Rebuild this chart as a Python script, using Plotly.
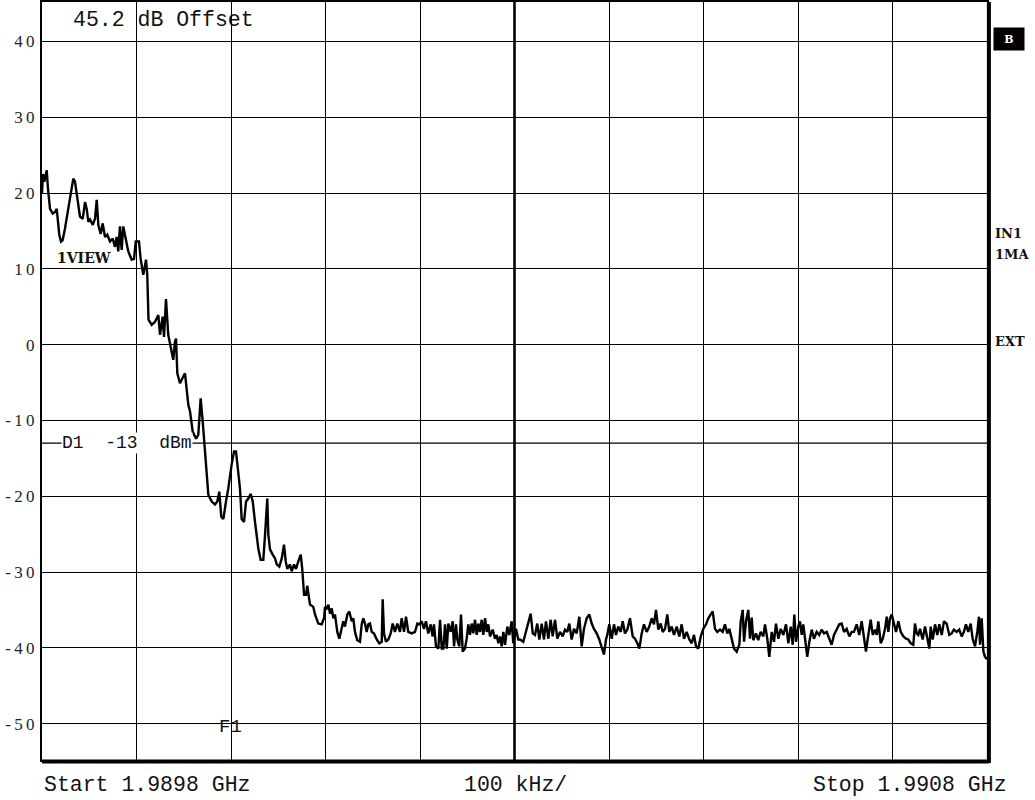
import plotly.graph_objects as go

# Frequency offset from start (kHz) and measured level (dBm)
freq_offset_khz = [
    0.0, 1.0, 2.5, 5.0, 6.3, 8.5, 11.3, 13.8, 15.6, 16.4, 18.3, 20.1, 21.9, 24.3, 27.8,
    30.4, 33.1, 34.9, 37.4, 40.2, 43.1, 45.5, 47.3, 49.0, 50.8, 53.7, 56.1, 57.9, 59.6,
    62.1, 64.2, 66.7, 69.1, 72.0, 74.8, 77.2, 79.0, 80.7, 82.5, 84.3, 86.0, 88.9, 91.3,
    94.9, 97.4, 99.2, 102.6, 104.4, 107.2, 110.1, 111.4, 112.7, 116.1, 119.6, 123.1,
    124.9, 127.7, 129.1, 131.2, 133.6, 137.2, 138.9, 140.7, 141.8, 143.2, 146.0, 149.5,
    151.3, 154.8, 156.6, 159.5, 163.0, 165.4, 167.9, 170.1, 172.5, 176.0, 179.6, 183.1,
    185.5, 187.6, 189.7, 191.9, 194.7, 197.1, 200.7, 203.2, 205.3, 207.7, 209.5, 211.3,
    213.8, 215.9, 218.3, 220.8, 223.0, 225.4, 228.9, 231.4, 234.2, 236.0, 238.4, 239.5,
    241.3, 244.1, 246.6, 248.4, 251.1, 253.7, 256.1, 257.9, 259.6, 262.4, 264.2, 266.7,
    268.8, 271.2, 273.8, 275.4, 277.3, 279.4, 280.7, 283.6, 287.1, 288.9, 292.4, 296.0,
    298.4, 299.5, 301.3, 303.0, 304.8, 306.6, 308.3, 310.0, 312.5, 314.6, 317.1, 318.8,
    320.6, 323.1, 325.2, 327.7, 329.4, 331.2, 333.6, 336.5, 338.3, 340.0, 341.8, 343.6,
    345.3, 347.1, 348.9, 351.3, 354.2, 356.9, 359.5, 360.5, 361.9, 364.0, 366.5, 369.0,
    371.1, 373.5, 376.0, 378.8, 380.6, 383.1, 385.2, 387.6, 391.2, 394.7, 397.2, 399.3,
    401.8, 404.2, 406.3, 408.8, 411.3, 413.4, 414.8, 416.9, 419.4, 421.2, 423.0, 424.7,
    426.5, 428.3, 430.0, 432.5, 434.6, 436.0, 438.1, 439.5, 441.6, 443.4, 445.2, 447.6,
    449.4, 451.1, 452.9, 454.7, 456.4, 458.2, 460.0, 461.7, 463.5, 465.3, 467.0, 468.8,
    470.6, 472.3, 474.1, 476.9, 479.4, 481.2, 482.9, 484.7, 486.5, 488.2, 490.0, 492.4,
    494.5, 497.0, 498.7, 501.6, 504.0, 505.8, 509.3, 512.2, 514.6, 517.1, 519.3, 521.7,
    524.1, 526.3, 528.8, 531.2, 533.3, 535.8, 538.3, 540.4, 542.9, 545.3, 548.2, 551.0,
    553.4, 555.9, 558.0, 560.5, 563.0, 565.8, 568.6, 571.1, 573.5, 576.4, 579.2, 581.7,
    584.1, 587.0, 589.7, 592.3, 594.7, 596.8, 598.2, 600.3, 602.9, 605.3, 607.4, 609.8,
    612.4, 614.5, 616.9, 619.4, 622.2, 625.1, 627.5, 630.0, 632.1, 634.6, 637.0, 639.9,
    642.6, 645.2, 647.6, 649.7, 652.2, 654.7, 656.8, 659.3, 661.7, 663.8, 666.3, 668.8,
    671.6, 674.4, 676.9, 679.4, 682.2, 685.0, 687.5, 689.9, 692.1, 694.5, 697.1, 699.8,
    702.7, 705.1, 707.6, 709.7, 712.2, 714.6, 717.5, 720.3, 722.7, 725.2, 727.3, 729.8,
    732.3, 735.1, 737.9, 739.4, 741.5, 742.9, 745.0, 747.4, 749.2, 751.0, 752.7, 755.5,
    757.9, 760.5, 763.3, 765.1, 767.5, 769.6, 772.2, 774.6, 776.7, 779.2, 781.7, 784.5,
    787.3, 789.8, 792.3, 794.4, 796.1, 797.9, 800.3, 802.1, 803.9, 805.6, 808.5, 809.8,
    812.0, 814.5, 816.9, 819.8, 822.5, 825.1, 827.5, 830.4, 833.1, 835.6, 838.1, 840.9,
    843.7, 846.2, 848.7, 851.5, 854.3, 856.8, 859.2, 862.1, 864.8, 867.4, 869.8, 871.9,
    874.4, 876.9, 879.1, 881.5, 883.3, 885.0, 887.6, 889.7, 892.1, 893.9, 895.6, 897.4,
    899.2, 901.6, 903.7, 906.2, 908.7, 911.5, 914.3, 916.7, 919.3, 922.0, 923.8, 925.6,
    927.3, 929.1, 931.9, 934.4, 936.8, 939.0, 940.4, 942.6, 945.0, 947.4, 949.5, 952.1,
    954.5, 957.3, 960.1, 962.6, 965.0, 967.9, 970.6, 973.2, 975.6, 977.7, 980.2, 982.7,
    984.8, 987.3, 989.7, 991.5, 992.6, 994.4, 996.2, 997.9, 1000.0,
]

level_dbm = [
    20.0, 22.5, 21.5, 23.0, 20.6, 17.9, 17.3, 17.5, 17.9, 17.0, 14.5, 13.6, 13.8, 15.3, 17.9,
    20.1, 21.9, 21.5, 19.3, 16.9, 16.6, 18.8, 17.9, 16.2, 16.5, 15.8, 16.6, 19.1, 15.8,
    14.6, 16.0, 14.2, 14.5, 13.6, 14.0, 12.9, 14.2, 12.3, 15.6, 12.5, 15.6, 13.6, 12.3,
    11.2, 11.3, 13.6, 13.6, 11.3, 9.2, 11.2, 9.2, 3.3, 2.6, 3.0, 3.9,
    1.3, 3.7, 1.0, 6.0, 1.3, -1.3, -2.0, 0.4, 0.8, -3.8, -5.1, -4.2,
    -3.8, -7.9, -8.8, -11.5, -12.4, -11.9, -7.1, -10.2, -13.7, -19.8, -20.7, -21.1,
    -20.7, -19.4, -22.7, -23.0, -20.7, -19.0, -15.8, -14.1, -14.1, -16.8, -19.0, -23.0,
    -23.4, -20.7, -20.3, -19.7, -20.7, -23.4, -26.9, -28.4, -28.4, -25.1, -20.3, -25.1,
    -27.0, -27.7, -28.2, -29.0, -29.3, -28.2, -26.4, -28.6, -29.6, -29.0, -29.9, -29.0,
    -29.6, -28.6, -27.7, -29.6, -33.0, -33.0, -31.8, -34.3, -34.6, -35.6, -36.8, -36.9,
    -36.1, -34.6, -34.8, -34.3, -35.5, -34.8, -36.1, -35.6, -37.9, -38.8, -37.5, -36.5,
    -37.2, -35.6, -35.2, -36.5, -36.1, -37.9, -39.0, -39.2, -36.9, -36.1, -36.8, -37.9,
    -36.9, -36.8, -37.9, -38.1, -38.9, -39.4, -39.2, -33.6, -38.1, -39.2, -38.9, -38.1,
    -36.8, -37.9, -36.8, -37.9, -36.1, -37.9, -35.9, -37.9, -38.1, -37.9, -36.8, -36.9,
    -36.5, -37.5, -36.5, -38.1, -36.9, -38.5, -36.9, -39.8, -40.1, -36.3, -40.1, -40.1,
    -36.9, -40.1, -36.8, -37.9, -36.5, -39.8, -36.9, -38.9, -39.8, -35.6, -40.5, -40.1,
    -38.8, -36.9, -38.3, -36.8, -38.1, -36.3, -38.3, -36.8, -37.9, -36.3, -38.3, -36.1,
    -37.9, -36.9, -38.5, -37.6, -38.8, -38.3, -39.4, -38.5, -39.8, -37.9, -39.6, -37.2,
    -38.3, -36.5, -39.4, -37.5, -38.9, -38.9, -39.2, -37.9, -36.5, -35.5, -38.1, -38.3,
    -36.8, -38.9, -36.8, -38.9, -36.5, -38.8, -36.3, -38.5, -36.3, -38.8, -37.9, -38.5,
    -37.6, -37.9, -36.8, -38.9, -37.5, -38.1, -35.9, -39.8, -37.5, -36.1, -35.6, -36.8,
    -37.5, -38.1, -38.9, -40.1, -40.9, -38.9, -38.3, -36.9, -38.8, -36.9, -38.3, -37.2,
    -37.9, -36.5, -38.1, -37.6, -36.1, -38.5, -38.8, -39.4, -40.1, -38.1, -36.9, -37.9,
    -37.2, -36.1, -36.9, -35.0, -37.6, -36.8, -37.9, -37.5, -35.6, -37.9, -37.2, -38.3,
    -37.2, -38.5, -36.9, -38.8, -37.9, -38.9, -39.4, -38.3, -39.8, -40.1, -38.5, -37.5,
    -36.9, -36.1, -35.6, -35.2, -37.5, -37.9, -37.6, -37.9, -36.9, -38.1, -37.5, -38.8,
    -40.1, -40.5, -39.6, -36.5, -35.0, -39.2, -36.5, -35.0, -38.8, -36.0, -39.0, -38.1,
    -39.0, -37.9, -38.5, -36.9, -38.8, -41.2, -37.9, -39.2, -36.8, -38.8, -37.5, -38.3,
    -36.9, -39.4, -37.2, -39.6, -35.6, -39.2, -37.2, -36.5, -38.3, -36.9, -39.6, -41.2,
    -39.2, -37.6, -38.8, -37.9, -38.3, -37.6, -38.1, -37.9, -38.8, -39.6, -38.3, -37.5,
    -36.9, -36.8, -37.9, -37.5, -38.5, -37.9, -37.9, -36.9, -38.3, -36.5, -38.9, -40.5,
    -38.3, -36.3, -38.3, -37.6, -38.3, -36.5, -39.4, -38.8, -37.5, -35.9, -37.9, -36.1,
    -35.6, -36.9, -37.9, -36.5, -37.9, -38.5, -38.8, -38.9, -39.4, -39.6, -36.8, -38.1,
    -38.3, -37.5, -38.9, -37.2, -38.5, -40.1, -37.2, -38.9, -36.9, -38.3, -36.9, -38.3,
    -36.5, -36.8, -38.3, -38.1, -37.6, -37.9, -37.6, -38.5, -37.9, -36.9, -37.9, -36.8,
    -38.8, -39.8, -37.9, -35.9, -39.6, -36.1, -40.5, -41.2, -41.5,
]

y_ticks = [-50, -40, -30, -20, -10, 0, 10, 20, 30, 40]
y_tick_text = ["-50", "-40", "-30", "-20", "-10", "0", "10", "20", "30", "40"]
x_grid = [100, 200, 300, 400, 500, 600, 700, 800, 900]

start_label = "Start 1.9898 GHz"
span_label = "100 kHz/"
stop_label = "Stop 1.9908 GHz"
display_line_dbm = -13

# spaced-out tick text like the instrument's print font
spaced_ticks = ["\u2009".join(t) for t in y_tick_text]

fig = go.Figure()
fig.add_trace(go.Scatter(
    x=freq_offset_khz, y=level_dbm, mode="lines",
    line=dict(color="black", width=2.4), showlegend=False, hoverinfo="skip",
))

# Display line D1
fig.add_shape(type="line", xref="paper", x0=0, x1=1, yref="y",
              y0=display_line_dbm, y1=display_line_dbm,
              line=dict(color="black", width=1.3), layer="below")
# Thick centre graticule line
fig.add_shape(type="line", xref="x", x0=500, x1=500, yref="paper", y0=0, y1=1,
              line=dict(color="black", width=2.6), layer="below")
# Heavier right and bottom frame
fig.add_shape(type="line", xref="paper", x0=0, x1=1.002, yref="paper", y0=-0.002, y1=-0.002,
              line=dict(color="black", width=4))
fig.add_shape(type="line", xref="paper", x0=1.002, x1=1.002, yref="paper", y0=-0.004, y1=1,
              line=dict(color="black", width=4))

mono = "Liberation Mono, Courier New, monospace"
serif_bold = "DejaVu Serif"

annotations = [
    dict(text="45.2 dB Offset", x=31.0, y=42.8, xref="x", yref="y", xanchor="left",
         yanchor="middle", showarrow=False, font=dict(family=mono, size=21.5, color="#111")),
    dict(text="<b>1VIEW</b>", x=13.5, y=11.4, xref="x", yref="y", xanchor="left",
         yanchor="middle", showarrow=False, font=dict(family=serif_bold, size=14, color="#111")),
    dict(text="D1  -13  dBm", x=20.0, y=display_line_dbm, xref="x", yref="y", xanchor="left",
         yanchor="middle", showarrow=False, bgcolor="white", borderpad=0,
         font=dict(family=mono, size=18, color="#111")),
    dict(text="F1", x=199, y=-50.5, xref="x", yref="y", xanchor="center",
         yanchor="middle", showarrow=False, font=dict(family=mono, size=19, color="#111")),
    dict(text="<b>B</b>", x=1, y=40.3, xref="paper", yref="y", xanchor="left", xshift=6,
         yanchor="middle", showarrow=False, bgcolor="black", width=28, height=20,
         font=dict(family=serif_bold, size=11, color="white")),
    dict(text="<b>IN1</b>", x=1, y=14.7, xref="paper", yref="y", xanchor="left", xshift=6,
         yanchor="middle", showarrow=False, font=dict(family=serif_bold, size=13, color="#111")),
    dict(text="<b>1MA</b>", x=1, y=11.9, xref="paper", yref="y", xanchor="left", xshift=6,
         yanchor="middle", showarrow=False, font=dict(family=serif_bold, size=13, color="#111")),
    dict(text="<b>EXT</b>", x=1, y=0.4, xref="paper", yref="y", xanchor="left", xshift=6,
         yanchor="middle", showarrow=False, font=dict(family=serif_bold, size=13, color="#111")),
    dict(text=start_label, x=0, y=0, xref="paper", yref="paper", xanchor="left", xshift=0,
         yanchor="middle", yshift=-25, showarrow=False, font=dict(family=mono, size=21.5, color="#111")),
    dict(text=span_label, x=0.5, y=0, xref="paper", yref="paper", xanchor="center", xshift=1,
         yanchor="middle", yshift=-25, showarrow=False, font=dict(family=mono, size=21.5, color="#111")),
    dict(text=stop_label, x=1, y=0, xref="paper", yref="paper", xanchor="right", xshift=22,
         yanchor="middle", yshift=-25, showarrow=False, font=dict(family=mono, size=21.5, color="#111")),
]

fig.update_layout(
    width=1035, height=800,
    margin=dict(l=42, r=48, t=0, b=40),
    paper_bgcolor="white", plot_bgcolor="white",
    annotations=annotations,
    xaxis=dict(range=[0, 1000], tickvals=x_grid, showticklabels=False, showgrid=True,
               gridcolor="black", gridwidth=1.2, zeroline=False, showline=True,
               linecolor="black", linewidth=2, mirror=True, ticks=""),
    yaxis=dict(range=[-54.8, 45.2], tickvals=y_ticks, ticktext=spaced_ticks, showgrid=True,
               gridcolor="black", gridwidth=1.2, zeroline=False, showline=True,
               linecolor="black", linewidth=2, mirror=True, ticks="",
               ticklabelstandoff=2,
               tickfont=dict(family="Liberation Serif, Times New Roman, serif", size=17, color="#222")),
)

fig.write_html("out.html")
